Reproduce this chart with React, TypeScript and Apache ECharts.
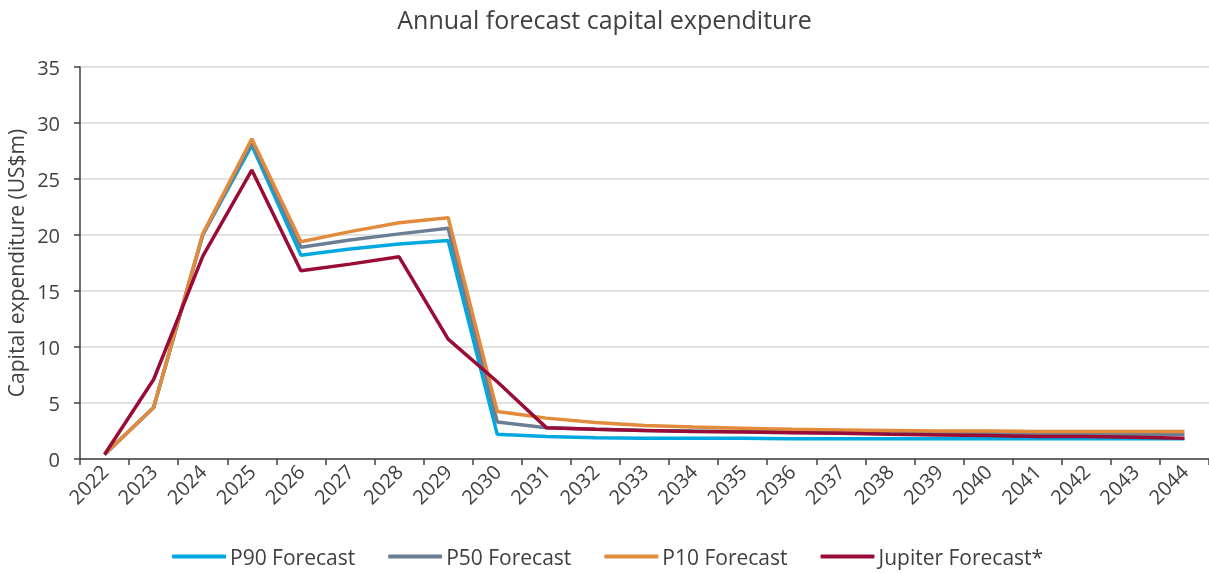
import React, { useEffect, useRef } from "react";
import * as echarts from "echarts";

const years = ["2022","2023","2024","2025","2026","2027","2028","2029","2030","2031","2032","2033","2034","2035","2036","2037","2038","2039","2040","2041","2042","2043","2044"];
const p90 = [0.4, 4.6, 20.0, 28.0, 18.2, 18.75, 19.2, 19.5, 2.2, 2.0, 1.9, 1.85, 1.85, 1.85, 1.8, 1.8, 1.8, 1.8, 1.8, 1.8, 1.8, 1.8, 1.8];
const p50 = [0.4, 4.6, 20.0, 28.3, 18.9, 19.55, 20.1, 20.6, 3.3, 2.8, 2.65, 2.55, 2.5, 2.45, 2.4, 2.35, 2.3, 2.3, 2.25, 2.25, 2.2, 2.2, 2.2];
const p10 = [0.4, 4.6, 20.1, 28.6, 19.4, 20.3, 21.1, 21.55, 4.25, 3.65, 3.25, 3.0, 2.85, 2.75, 2.65, 2.6, 2.55, 2.5, 2.5, 2.45, 2.45, 2.45, 2.45];
const jupiter = [0.4, 7.1, 18.1, 25.8, 16.8, 17.4, 18.05, 10.7, 6.9, 2.8, 2.65, 2.55, 2.45, 2.4, 2.35, 2.3, 2.2, 2.15, 2.1, 2.0, 2.0, 1.95, 1.85];

const FONT = "'Open Sans', sans-serif";

export default function App() {
  const ref = useRef<HTMLDivElement>(null);
  useEffect(() => {
    if (!ref.current) return;
    const chart = echarts.init(ref.current, null, { renderer: "svg" });
    const mk = (name: string, data: number[], color: string) => ({
      name,
      type: "line",
      data,
      symbol: "none",
      lineStyle: { color, width: 3.5 },
      itemStyle: { color },
    });
    chart.setOption({
      animation: false,
      textStyle: { fontFamily: FONT },
      title: {
        text: "Annual forecast capital expenditure",
        left: "center",
        top: 1,
        textStyle: { fontFamily: FONT, fontSize: 25, fontWeight: "normal", color: "#404040" },
      },
      legend: {
        bottom: 1,
        left: 167,
        itemWidth: 54,
        itemHeight: 4,
        itemGap: 33,
        icon: "roundRect",
        textStyle: { fontFamily: FONT, fontSize: 21, color: "#404040", padding: [0, 0, 0, -1] },
        data: ["P90 Forecast", "P50 Forecast", "P10 Forecast", "Jupiter Forecast*"],
      },
      grid: { left: 80, right: 0, top: 67, bottom: 114, outerBoundsMode: "none", containLabel: false },
      xAxis: {
        type: "category",
        data: years,
        boundaryGap: true,
        axisLine: { lineStyle: { color: "#404040", width: 1.5 } },
        axisTick: { show: true, length: 6, lineStyle: { color: "#404040", width: 1.5 } },
        axisLabel: { rotate: 45, fontSize: 20, color: "#404040", fontFamily: FONT, margin: 9, interval: 0 },
      },
      yAxis: {
        type: "value",
        min: 0,
        max: 35,
        interval: 5,
        name: "Capital expenditure (US$m)",
        nameLocation: "middle",
        nameGap: 52,
        nameTextStyle: { fontFamily: FONT, fontSize: 21, color: "#404040" },
        axisLine: { show: true, lineStyle: { color: "#404040", width: 1.5 } },
        axisTick: { show: true, length: 6, lineStyle: { color: "#404040", width: 1.5 } },
        axisLabel: { fontSize: 20, color: "#404040", fontFamily: FONT, margin: 20 },
        splitLine: { lineStyle: { color: "#D9D9D9", width: 1.5 } },
      },
      series: [
        mk("P90 Forecast", p90, "#00A8E1"),
        mk("P50 Forecast", p50, "#6A7F93"),
        mk("P10 Forecast", p10, "#E38B3D"),
        mk("Jupiter Forecast*", jupiter, "#990C36"),
      ],
    });
    return () => chart.dispose();
  }, []);
  return <div ref={ref} style={{ position: "fixed", left: 0, top: 0, width: 1209, height: 573 }} />;
}
